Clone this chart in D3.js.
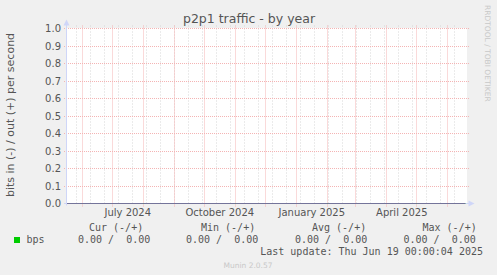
<!DOCTYPE html>
<html>
<head>
<meta charset="utf-8">
<script src="https://cdn.jsdelivr.net/npm/d3@7"></script>
<style>
  html, body { margin: 0; padding: 0; background: #f0f0f0; }
  svg { display: block; }
</style>
</head>
<body>
<svg id="chart" width="497" height="275"></svg>
<script>
// ---- data ----
const title = "p2p1 traffic - by year";
const yAxisLabel = "bits in (-) / out (+) per second";
const sideLabel = "RRDTOOL / TOBI OETIKER";
const timeDomain = ["2024-05-16T17:00:00Z", "2025-06-20T17:00:00Z"];
const xLabelDates = ["2024-07-01", "2024-10-01", "2025-01-01", "2025-04-01"];
const xLabels = ["July 2024", "October 2024", "January 2025", "April 2025"];
const yTicks = [0.0, 0.1, 0.2, 0.3, 0.4, 0.5, 0.6, 0.7, 0.8, 0.9, 1.0];
const seriesDates = ["2024-05-16T17:00:00Z", "2024-08-01", "2024-11-01", "2025-02-01", "2025-05-01", "2025-06-19T00:00:04Z"];
const inValues  = [0, 0, 0, 0, 0, 0];
const outValues = [0, 0, 0, 0, 0, 0];
const legendHeaders = ["Cur (-/+)", "Min (-/+)", "Avg (-/+)", "Max (-/+)"];
const legendName = "bps";
const legendValues = ["0.00 /  0.00", "0.00 /  0.00", "0.00 /  0.00", "0.00 /  0.00"];
const lastUpdate = "Last update: Thu Jun 19 00:00:04 2025";
const footer = "Munin 2.0.57";

// ---- drawing ----
const svg = d3.select("#chart");
const L = 67, R = 467, T = 28.5, B = 203.5;
const x = d3.scaleUtc().domain(timeDomain.map(d => new Date(d))).range([L, R]);
const y = d3.scaleLinear().domain([0, 1]).range([B, T]);
const px = v => Math.round(v) + 0.5;

svg.append("rect").attr("width", 497).attr("height", 275).attr("fill", "#f0f0f0");
svg.append("rect").attr("x", L).attr("y", T - 0.5).attr("width", R - L).attr("height", B - T + 0.5).attr("fill", "#ffffff");

const [d0, d1] = x.domain();
// minor grid: every two weeks
const minor = [];
for (let d = new Date("2024-05-26T00:00:00Z"); d < d1; d = d3.utcDay.offset(d, 14)) minor.push(d);
svg.append("g").selectAll("line").data(minor).join("line")
  .attr("x1", d => px(x(d))).attr("x2", d => px(x(d)))
  .attr("y1", T - 3).attr("y2", B + 1)
  .attr("stroke", "#d6d6d6").attr("stroke-width", 1).attr("stroke-dasharray", "1,2");

// major grid: months
const majorColor = "#f4b4b4";
const months = d3.utcMonth.range(d3.utcMonth.ceil(d0), d1);
svg.append("g").selectAll("line").data(months).join("line")
  .attr("x1", d => px(x(d))).attr("x2", d => px(x(d)))
  .attr("y1", T - 3).attr("y2", B + 3)
  .attr("stroke", majorColor).attr("stroke-width", 1).attr("stroke-dasharray", "1,1");

// horizontal grid
svg.append("g").selectAll("line").data(yTicks).join("line")
  .attr("x1", L - 3).attr("x2", R + 2)
  .attr("y1", d => px(y(d) - 0.5)).attr("y2", d => px(y(d) - 0.5))
  .attr("stroke", majorColor).attr("stroke-width", 1).attr("stroke-dasharray", "1,1");

// y tick labels
svg.append("g").selectAll("text").data(yTicks).join("text")
  .attr("x", 61).attr("y", d => y(d) + 3.5)
  .attr("text-anchor", "end")
  .attr("font-family", "DejaVu Sans").attr("font-size", 10).attr("fill", "#555")
  .text(d => d.toFixed(1));

// x labels (centered mid-month)
svg.append("g").selectAll("text").data(xLabelDates).join("text")
  .attr("x", (d, i) => x(d3.utcHour.offset(new Date(d + "T00:00:00Z"), 372)))
  .attr("y", 215.5)
  .attr("text-anchor", "middle")
  .attr("font-family", "DejaVu Sans").attr("font-size", 10).attr("fill", "#555")
  .text((d, i) => xLabels[i]);

// axes (lavender)
const axisColor = "#cfd6f8";
svg.append("line").attr("x1", 66.5).attr("x2", 66.5).attr("y1", B + 2).attr("y2", 23).attr("stroke", axisColor);
svg.append("path").attr("d", "M66.5,19.5 L63.5,25.5 L69.5,25.5 Z").attr("fill", axisColor);
svg.append("line").attr("x1", 64).attr("x2", 470).attr("y1", B).attr("y2", B).attr("stroke", axisColor);
svg.append("path").attr("d", "M474.5,203.5 L468.5,200.5 L468.5,206.5 Z").attr("fill", axisColor);

// data lines (in drawn negative, out positive; both zero)
const pts = seriesDates.map(d => new Date(d));
const line = d3.line().x(d => x(d[0])).y(d => px(y(d[1]) - 0.5));
svg.append("path").datum(pts.map((d, i) => [d, -inValues[i]]))
  .attr("d", line).attr("fill", "none").attr("stroke", "#00cc00").attr("stroke-width", 1);
svg.append("path").datum(pts.map((d, i) => [d, outValues[i]]))
  .attr("d", line).attr("fill", "none").attr("stroke", "#74749a").attr("stroke-width", 1);

// title
svg.append("text").attr("x", 249).attr("y", 23).attr("text-anchor", "middle")
  .attr("font-family", "DejaVu Sans").attr("font-size", 12.5).attr("fill", "#555").text(title);

// y axis label
svg.append("text").attr("transform", "translate(13.5,115) rotate(-90)").attr("text-anchor", "middle")
  .attr("font-family", "DejaVu Sans").attr("font-size", 11).attr("fill", "#555").text(yAxisLabel);

// side label
svg.append("text").attr("transform", "translate(484.5,5) rotate(90)").attr("text-anchor", "start")
  .attr("font-family", "DejaVu Sans").attr("font-size", 7.5).attr("fill", "#c8c8c8").text(sideLabel);

// legend
const mono = "DejaVu Sans Mono";
const headerX = [89, 201, 312, 422.5];
const valueX = [78, 186, 295, 403.5];
svg.append("g").selectAll("text").data(legendHeaders).join("text")
  .attr("x", (d, i) => headerX[i]).attr("y", 230.5)
  .attr("font-family", mono).attr("font-size", 10).attr("fill", "#555")
  .attr("xml:space", "preserve").style("white-space", "pre").text(d => d);
svg.append("g").selectAll("text").data(legendValues).join("text")
  .attr("x", (d, i) => valueX[i]).attr("y", 243)
  .attr("font-family", mono).attr("font-size", 10).attr("fill", "#555")
  .attr("xml:space", "preserve").style("white-space", "pre").text(d => d);
svg.append("rect").attr("x", 14).attr("y", 237).attr("width", 6).attr("height", 6).attr("fill", "#00cc00");
svg.append("text").attr("x", 26.5).attr("y", 243)
  .attr("font-family", mono).attr("font-size", 10).attr("fill", "#555").text(legendName);
svg.append("text").attr("x", 483).attr("y", 255).attr("text-anchor", "end")
  .attr("font-family", mono).attr("font-size", 10).attr("fill", "#555").text(lastUpdate);
svg.append("text").attr("x", 248).attr("y", 267.5).attr("text-anchor", "middle")
  .attr("font-family", "DejaVu Sans").attr("font-size", 7.5).attr("fill", "#c8c8c8").text(footer);
</script>
</body>
</html>
